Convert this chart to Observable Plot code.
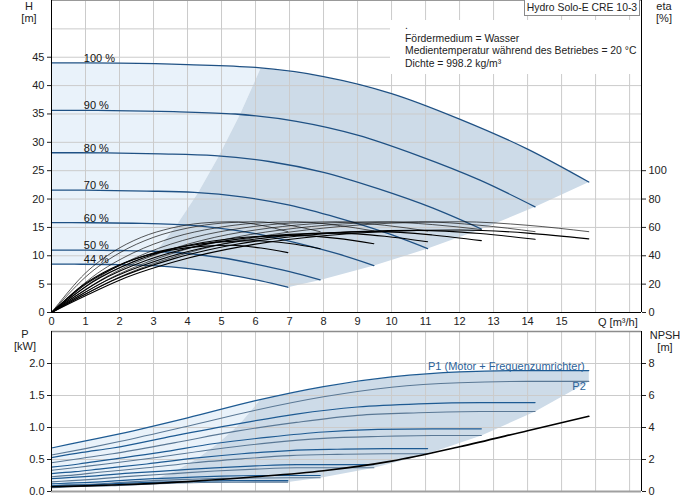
<!DOCTYPE html>
<html><head><meta charset="utf-8">
<script src="https://cdn.jsdelivr.net/npm/d3@7"></script>
<script src="https://cdn.jsdelivr.net/npm/@observablehq/plot@0.6"></script>
<style>
body{margin:0;background:#fff;font-family:"Liberation Sans",Arial,sans-serif;}
#wrap{position:relative;width:691px;height:500px;overflow:hidden;background:#fff}
#wrap svg{position:absolute;left:0}
.lbl{position:absolute;font-size:11px;color:#222;line-height:12px;white-space:nowrap;text-align:center}
</style></head>
<body><div id="wrap"></div>
<script>
// ---- data ----
const speeds = ["100 %","90 %","80 %","70 %","60 %","50 %","44 %"];
const flowQ = [
 [0,1,2,4,6,8,10,12,14,15.8],
 [0,0.9,1.8,3.6,5.4,7.2,9,10.8,12.6,14.22],
 [0,0.8,1.6,3.2,4.8,6.4,8,9.6,11.2,12.64],
 [0,0.7,1.4,2.8,4.2,5.6,7,8.4,9.8,11.06],
 [0,0.6,1.2,2.4,3.6,4.8,6,7.2,8.4,9.48],
 [0,0.5,1,2,3,4,5,6,7,7.9],
 [0,0.44,0.88,1.76,2.64,3.52,4.4,5.28,6.16,6.95]
];
const headH = [
 [44.0,44.0,43.95,43.7,43.2,41.6,38.6,34.1,28.8,23.0],
 [35.64,35.64,35.6,35.4,34.99,33.7,31.27,27.62,23.33,18.63],
 [28.16,28.16,28.13,27.97,27.65,26.62,24.7,21.82,18.43,14.72],
 [21.56,21.56,21.54,21.41,21.17,20.38,18.91,16.71,14.11,11.27],
 [15.84,15.84,15.82,15.73,15.55,14.98,13.9,12.28,10.37,8.28],
 [11.0,11.0,10.99,10.93,10.8,10.4,9.65,8.53,7.2,5.75],
 [8.52,8.52,8.51,8.46,8.36,8.05,7.47,6.6,5.58,4.45]
];
const etaPump = [
 [0,13,25,42,53,59.5,63,64,61.5,57],
 [0,13,25,42,53,59.5,63,64,61.5,57],
 [0,13,25,42,53,59.5,63,64,62,58.5],
 [0,13,25,42,53,59.5,63,64,61.5,57.5],
 [0,13,25,42,53,59.5,63,64,61.5,57.5],
 [0,13,25,42,53,59.5,63,64,61.5,57],
 [0,13,25,42,53,59.5,63,64,61.5,57]
];
const etaTotal = [
 [0,11.8,22.8,38.2,48.2,54.1,57.3,58.2,56.0,51.9],
 [0,11.8,22.6,38.0,48.0,53.8,57.0,57.9,55.7,51.6],
 [0,11.6,22.3,37.4,47.2,53.0,56.1,57.0,54.7,50.7],
 [0,11.4,21.9,36.8,46.4,52.1,55.1,56.0,53.8,49.9],
 [0,11.1,21.3,35.7,45.1,50.6,53.6,54.4,52.3,48.5],
 [0,10.3,19.8,33.2,41.9,47.0,49.8,50.6,48.6,45.0],
 [0,9.6,18.5,31.1,39.2,44.0,46.6,47.4,45.5,42.2]
];
const powerP1 = [
 [0.68,0.79,0.90,1.15,1.42,1.64,1.79,1.87,1.89,1.89],
 [0.53,0.61,0.68,0.87,1.05,1.21,1.32,1.37,1.39,1.39],
 [0.38,0.43,0.49,0.61,0.75,0.85,0.93,0.97,0.98,0.98],
 [0.28,0.31,0.35,0.43,0.52,0.59,0.64,0.66,0.67,0.67],
 [0.20,0.22,0.24,0.29,0.33,0.37,0.40,0.42,0.42,0.42],
 [0.12,0.13,0.14,0.17,0.20,0.22,0.24,0.25,0.25,0.25],
 [0.09,0.10,0.10,0.12,0.14,0.15,0.16,0.17,0.17,0.17]
];
const powerP2 = [
 [0.57,0.67,0.78,1.02,1.27,1.48,1.63,1.70,1.72,1.72],
 [0.45,0.52,0.59,0.76,0.94,1.08,1.19,1.23,1.25,1.25],
 [0.33,0.38,0.43,0.54,0.66,0.76,0.83,0.86,0.875,0.875],
 [0.23,0.26,0.30,0.37,0.45,0.51,0.56,0.58,0.59,0.59],
 [0.15,0.17,0.19,0.24,0.28,0.32,0.35,0.37,0.37,0.37],
 [0.09,0.10,0.11,0.14,0.17,0.19,0.205,0.21,0.215,0.215],
 [0.06,0.07,0.08,0.09,0.11,0.13,0.14,0.145,0.147,0.147]
];
const npshQ = [0,1,2,4,6,8,10,12,14,15.8];
const npshM = [0.3,0.35,0.42,0.62,0.92,1.3,1.9,2.8,3.8,4.7];
// operating-range limits
const boundQ = [6.15,5.54,4.92,4.31,3.69,3.08,2.71];
const boundH = [43.1,34.9,27.6,21.1,15.5,10.8,8.35];
const boundP = [1.44,1.06,0.76,0.525,0.333,0.20,0.11];
const endQ = [15.8,14.22,12.64,11.06,9.48,7.9,6.95];
const endH = [23.0,18.63,14.72,11.27,8.28,5.75,4.45];
const endP2 = [1.72,1.25,0.875,0.59,0.37,0.215,0.147];
// axes
const qTicks = [0,1,2,3,4,5,6,7,8,9,10,11,12,13,14,15];
const gridQ = [0,1,2,3,4,5,6,7,8,9,10,11,12,13,14,15,16,17];
const hTicks = [0,5,10,15,20,25,30,35,40,45];
const gridH = [5,10,15,20,25,30,35,40,45,50];
const etaTicks = [0,20,40,60,80,100];
const pTicks = [0,0.5,1.0,1.5,2.0];
const npshTicks = [0,2,4,6,8];
const xMax = 17.35, hMax = 55, pMax = 2.5;
const etaPerH = 4;   // eta 100 % sits at H = 25 m
const npshPerP = 4;  // NPSH 8 m sits at P = 2.0 kW

// ---- tables ----
const rows = [];
speeds.forEach((s,i)=>flowQ[i].forEach((q,j)=>rows.push({speed:s,Q:q,H:headH[i][j],etaP:etaPump[i][j],etaT:etaTotal[i][j],P1:powerP1[i][j],P2:powerP2[i][j]})));
const npsh = npshQ.map((q,i)=>({Q:q,N:npshM[i]}));
const top100 = flowQ[0].map((q,j)=>({Q:q,H:headH[0][j],P:powerP1[0][j]}));
const low44 = flowQ[6].map((q,j)=>({Q:q,H:headH[6][j],P:powerP2[6][j]}));
const bQmax = boundQ[0], bQmin = boundQ[boundQ.length-1], eQmin = endQ[endQ.length-1];
function polys(key, bVals, eVals){
  const light = [], dark = [];
  top100.filter(d=>d.Q<bQmax).forEach(d=>light.push({Q:d.Q,v:d[key]}));
  boundQ.forEach((q,i)=>light.push({Q:q,v:bVals[i]}));
  low44.filter(d=>d.Q<bQmin).reverse().forEach(d=>light.push({Q:d.Q,v:d[key]}));
  dark.push({Q:boundQ[0],v:bVals[0]});
  top100.filter(d=>d.Q>bQmax).forEach(d=>dark.push({Q:d.Q,v:d[key]}));
  endQ.forEach((q,i)=>dark.push({Q:q,v:eVals[i]}));
  low44.filter(d=>d.Q>bQmin&&d.Q<eQmin).reverse().forEach(d=>dark.push({Q:d.Q,v:d[key]}));
  boundQ.slice().reverse().forEach((q,i)=>dark.push({Q:q,v:bVals[bVals.length-1-i]}));
  return [light,dark];
}
const [lightTop,darkTop] = polys("H", boundH, endH);
const [lightBot,darkBot] = polys("P", boundP, endP2);
const labels = speeds.map((s,i)=>({t:s,Q:0.95,H:headH[i][0]}));
const p1End = {Q:flowQ[0][9],P:powerP1[0][9]};
const p2End = {Q:flowQ[0][9],P:powerP2[0][9]};

const font = '"Liberation Sans", Arial, sans-serif';
const grid = "#cbcbcb", light = "#e9f2fa", dark = "#cddbe8";

const topPlot = Plot.plot({
  width:691, height:330, marginLeft:51, marginRight:50, marginTop:0, marginBottom:18,
  x:{domain:[0,xMax]}, y:{domain:[0,hMax]},
  style:{fontFamily:font, fontSize:"11px", color:"#222", background:"none", overflow:"visible"},
  marks:[
    Plot.line(lightTop,{x:"Q",y:"v",fill:light,stroke:null}),
    Plot.line(darkTop,{x:"Q",y:"v",fill:dark,stroke:null}),
    Plot.gridX({ticks:gridQ,stroke:grid,strokeOpacity:1}),
    Plot.gridY({ticks:gridH,stroke:grid,strokeOpacity:1}),
    Plot.line(rows,{x:"Q",y:"H",z:"speed",stroke:"#1f5184",strokeWidth:1.3,curve:"monotone-x"}),
    Plot.line(rows,{x:"Q",y:d=>d.etaP/etaPerH,z:"speed",stroke:"#111",strokeWidth:0.7,curve:"monotone-x"}),
    Plot.line(rows,{x:"Q",y:d=>d.etaT/etaPerH,z:"speed",stroke:"#000",strokeWidth:1.1,curve:"monotone-x"}),
    Plot.ruleY([hMax],{stroke:"#999"}),
    Plot.ruleX([0],{stroke:"#000"}),
    Plot.ruleX([xMax],{stroke:"#000"}),
    Plot.ruleY([0],{stroke:"#000"}),
    Plot.axisY({anchor:"left",ticks:hTicks,tickSize:4,tickPadding:3,label:null}),
    Plot.axisY({anchor:"right",ticks:etaTicks.map(e=>e/etaPerH),tickFormat:v=>Math.round(v*etaPerH),tickSize:4,tickPadding:3,label:null}),
    Plot.axisX({ticks:qTicks,tickSize:0,tickPadding:5,label:null}),
    Plot.text(labels,{x:"Q",y:"H",text:"t",textAnchor:"start",lineAnchor:"bottom",dy:-1,fill:"#111"})
  ]
});
topPlot.style.top = "0px";

const botPlot = Plot.plot({
  width:691, height:170, marginLeft:51, marginRight:50, marginTop:1, marginBottom:9,
  x:{domain:[0,xMax], axis:null}, y:{domain:[0,pMax]},
  style:{fontFamily:font, fontSize:"11px", color:"#222", background:"none", overflow:"visible"},
  marks:[
    Plot.line(lightBot,{x:"Q",y:"v",fill:light,stroke:null}),
    Plot.line(darkBot,{x:"Q",y:"v",fill:dark,stroke:null}),
    Plot.gridX({ticks:gridQ,stroke:grid,strokeOpacity:1}),
    Plot.gridY({ticks:pTicks.slice(1),stroke:grid,strokeOpacity:1}),
    Plot.line(rows,{x:"Q",y:"P2",z:"speed",stroke:"#5a7895",strokeWidth:1.1,curve:"monotone-x"}),
    Plot.line(rows,{x:"Q",y:"P1",z:"speed",stroke:"#1d5a92",strokeWidth:1.2,curve:"monotone-x"}),
    Plot.line(npsh,{x:"Q",y:d=>d.N/npshPerP,stroke:"#000",strokeWidth:1.6,curve:"monotone-x"}),
    Plot.ruleY([pMax],{stroke:"#8c8c8c",strokeWidth:1.5}),
    Plot.ruleY([0],{stroke:"#a0a0a0",strokeWidth:2}),
    Plot.ruleX([0],{stroke:"#000"}),
    Plot.ruleX([xMax],{stroke:"#000"}),
    Plot.axisY({anchor:"left",ticks:pTicks,tickFormat:".1f",tickSize:4,tickPadding:3,label:null}),
    Plot.axisY({anchor:"right",ticks:npshTicks.map(n=>n/npshPerP),tickFormat:v=>Math.round(v*npshPerP),tickSize:4,tickPadding:3,label:null}),
    Plot.text([p1End],{x:"Q",y:"P",text:()=>"P1 (Motor + Frequenzumrichter)",textAnchor:"end",lineAnchor:"bottom",dx:-4,dy:-1,fill:"#2c639a"}),
    Plot.text([p2End],{x:"Q",y:"P",text:()=>"P2",textAnchor:"end",lineAnchor:"top",dx:-3,dy:1,fill:"#2c639a"})
  ]
});
botPlot.style.top = "330px";

const wrap = document.getElementById("wrap");
wrap.appendChild(topPlot);
wrap.appendChild(botPlot);

function addLabel(html, css){
  const d = document.createElement("div");
  d.className = "lbl"; d.innerHTML = html; Object.assign(d.style, css); wrap.appendChild(d);
  return d;
}
addLabel("H<br>[m]", {left:"17px", top:"0px", width:"24px"});
addLabel("eta<br>[%]", {left:"651px", top:"0px", width:"26px"});
addLabel("Q [m³/h]", {left:"598px", top:"316px", textAlign:"left"});
addLabel("P<br>[kW]", {left:"12px", top:"328px", width:"26px"});
addLabel("NPSH<br>[m]", {left:"648px", top:"329px", width:"34px"});
addLabel("Hydro Solo-E CRE 10-3", {left:"524px", top:"0px", width:"114px", height:"15px", lineHeight:"15px", fontSize:"10.4px", border:"1px solid #8a8a8a", borderTop:"none", background:"#fff"});
addLabel(".<br>Fördermedium = Wasser<br>Medientemperatur während des Betriebes = 20 °C<br>Dichte = 998.2 kg/m³",
  {left:"390px", top:"20px", width:"236px", padding:"0 0 4px 15px", textAlign:"left", fontSize:"10.4px", lineHeight:"12.5px", background:"#fff"});
</script>
</body></html>
